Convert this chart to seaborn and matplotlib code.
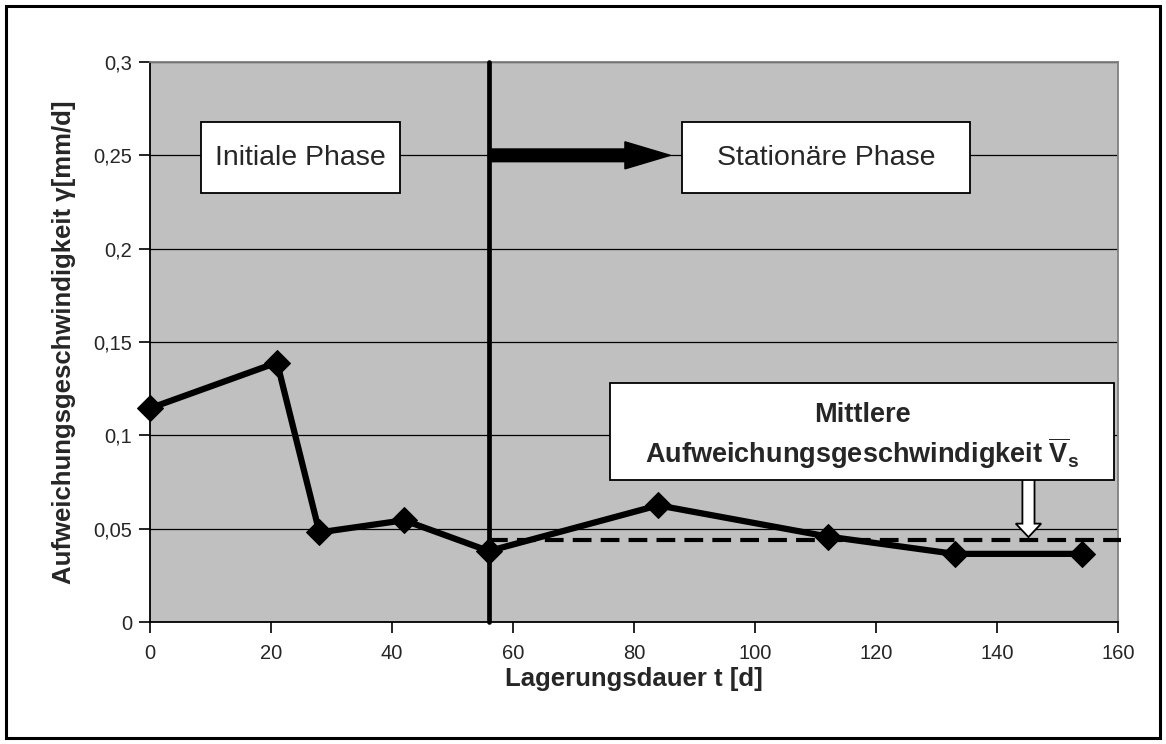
import matplotlib
matplotlib.use('Agg')
import matplotlib.pyplot as plt
import matplotlib.patches as mpatches
import seaborn as sns
import pandas as pd

# Daten
days = [0, 21, 28, 42, 56, 84, 112, 133, 154]
speed = [0.1145, 0.139, 0.048, 0.0545, 0.038, 0.0625, 0.0458, 0.0365, 0.0365]
mean_speed = 0.044
phase_change = 56
x_ticks = [0, 20, 40, 60, 80, 100, 120, 140, 160]
y_ticks = [0, 0.05, 0.1, 0.15, 0.2, 0.25, 0.3]
y_tick_labels = ['0', '0,05', '0,1', '0,15', '0,2', '0,25', '0,3']

sns.set_style('white')
plt.rcParams['font.family'] = ['Liberation Sans', 'DejaVu Sans']
plt.rcParams['mathtext.fontset'] = 'custom'
plt.rcParams['mathtext.rm'] = 'Liberation Sans'
plt.rcParams['mathtext.bf'] = 'Liberation Sans:bold'

df = pd.DataFrame({'t': days, 'v': speed})

fig = plt.figure(figsize=(11.66, 7.44), dpi=100)
ax = fig.add_axes([150 / 1166, 1 - 622 / 744, 968 / 1166, 560 / 744])
ax.set_facecolor('#c0c0c0')

ax.set_xlim(0, 160)
ax.set_ylim(0, 0.3)
ax.set_xticks(x_ticks)
ax.set_yticks(y_ticks)
ax.set_yticklabels(y_tick_labels)
ax.yaxis.grid(True, color='black', lw=0.9)
ax.xaxis.grid(False)
ax.set_axisbelow(True)

# Messkurve
sns.lineplot(data=df, x='t', y='v', ax=ax, color='black', lw=4.5,
             marker='D', markersize=13, markeredgecolor='black', zorder=6,
             clip_on=False)

# Mittelwert (gestrichelt)
ax.plot([phase_change, 160.5], [mean_speed, mean_speed], color='black', lw=3,
        ls=(0, (4.5, 2.2)), clip_on=False, zorder=5)

# Phasengrenze
ax.plot([phase_change, phase_change], [0, 0.3], color='black', lw=3.4,
        solid_capstyle='round', clip_on=False, zorder=7)

# Pfeil nach rechts
ax.add_patch(mpatches.FancyArrow(phase_change, 0.25, 30, 0, width=0.0068,
                                 head_width=0.0145, head_length=7.5,
                                 length_includes_head=True, color='black', zorder=7))

# Pfeil nach unten
ax.add_patch(mpatches.FancyArrow(145.2, 0.0765, 0, -0.031, width=2.0,
                                 head_width=4.2, head_length=0.0072,
                                 length_includes_head=True, fc='white', ec='black',
                                 lw=1.3, zorder=7))

# Textboxen
box_kw = dict(fc='white', ec='black', lw=1.3, zorder=8)
ax.add_patch(mpatches.Rectangle((8.4, 0.2298), 32.9, 0.038, **box_kw))
ax.text(24.85, 0.2488, 'Initiale Phase', fontsize=20.5, ha='center', va='center', zorder=9)
ax.add_patch(mpatches.Rectangle((87.9, 0.2298), 47.6, 0.038, **box_kw))
ax.text(111.7, 0.2488, 'Stationäre Phase', fontsize=20.5, ha='center', va='center', zorder=9)
ax.add_patch(mpatches.Rectangle((76.0, 0.0761), 83.3, 0.0519, **box_kw))
ax.text(117.7, 0.1109, 'Mittlere', fontsize=19.5, fontweight='bold',
        ha='center', va='center', zorder=9)
ax.text(117.7, 0.0905, r'Aufweichungsgeschwindigkeit $\mathbf{\overline{V}_s}$', fontsize=19.5,
        fontweight='bold', ha='center', va='center', zorder=9)

# Achsen
for side in ['left', 'bottom']:
    ax.spines[side].set_color('black')
    ax.spines[side].set_linewidth(1.3)
for side in ['top', 'right']:
    ax.spines[side].set_color('#808080')
    ax.spines[side].set_linewidth(1.3)

ax.tick_params(axis='both', direction='out', length=8, width=1.2, color='black',
               labelsize=14.5, left=True, bottom=True)
ax.tick_params(axis='x', pad=8)
ax.tick_params(axis='y', pad=5)

ax.set_xlabel('Lagerungsdauer t [d]', fontsize=18.5, fontweight='bold')
ax.set_ylabel('Aufweichungsgeschwindigkeit γ[mm/d]', fontsize=18.5, fontweight='bold')
ax.xaxis.set_label_coords(0.5, -0.08)
ax.yaxis.set_label_coords(-0.0765, 0.5)

# Rahmen um die Abbildung
fig.patches.append(mpatches.Rectangle((6 / 1166, 6 / 744), 1154 / 1166, 732 / 744,
                                      fill=False, ec='black', lw=2.2,
                                      transform=fig.transFigure, figure=fig))

fig.savefig('out.png', dpi=100)
